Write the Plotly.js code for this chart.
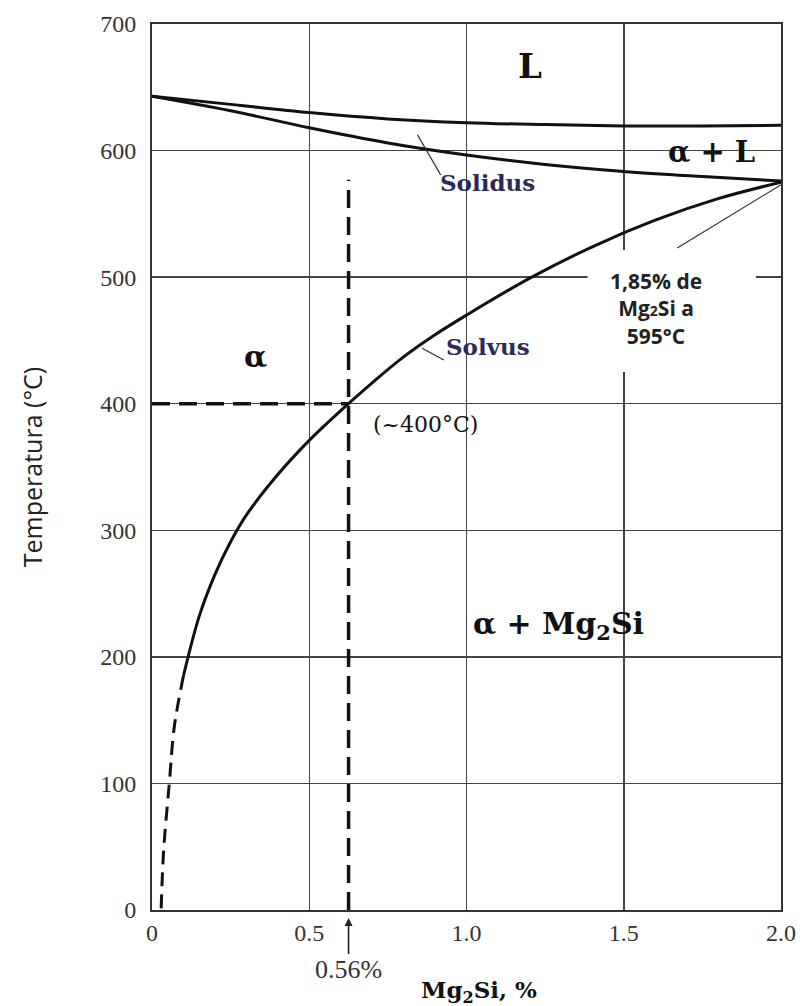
<!DOCTYPE html>
<html>
<head>
<meta charset="utf-8">
<script src="https://cdn.plot.ly/plotly-3.0.1.min.js"></script>
<style>html,body{margin:0;padding:0;background:#fff;}</style>
</head>
<body>
<div id="chart" style="width:800px;height:1006px;"></div>
<script>
// Liquidus line
const liquidusX = [0, 0.25, 0.5, 0.75, 1.0, 1.25, 1.5, 1.75, 2.0];
const liquidusT = [643, 636.5, 630, 625, 622, 620.5, 619.5, 619.5, 620];
// Solidus line
const solidusX = [0, 0.25, 0.5, 0.75, 1.0, 1.25, 1.5, 1.75, 2.0];
const solidusT = [643, 631.5, 618, 606, 596.5, 589, 583.5, 579.5, 576];
// Solvus (solid part)
const solvusX = [0.10, 0.15, 0.2, 0.25, 0.3, 0.4, 0.5, 0.6, 0.7, 0.8, 0.9, 1.0, 1.2, 1.4, 1.6, 1.8, 2.0];
const solvusT = [185, 232, 265, 291, 312, 344, 371, 394.5, 416.5, 437, 454.5, 470, 499, 524, 545, 562, 575];
// Solvus (dashed, extrapolated part)
const solvusDashX = [0.10, 0.071, 0.055, 0.037, 0.029];
const solvusDashT = [185, 145, 100, 47, 0];
// 0.56 % composition marker and 400 °C isotherm
const compX = [0.625, 0.625];
const compT = [0, 577];
const isoX = [0, 0.625];
const isoT = [400, 400];
// Axis ticks
const xTickVals = [0, 0.5, 1.0, 1.5, 2.0];
const xTickText = ['0', '0.5', '1.0', '1.5', '2.0'];
const yTickVals = [0, 100, 200, 300, 400, 500, 600, 700];
const yTickText = ['0', '100', '200', '300', '400', '500', '600', '700'];

const black = '#111';
const serif = 'DejaVu Serif, serif';
const times = 'Liberation Serif, Times New Roman, serif';

const traces = [
  {x: liquidusX, y: liquidusT, mode: 'lines', line: {color: black, width: 3, shape: 'spline'}, hoverinfo: 'skip'},
  {x: solidusX, y: solidusT, mode: 'lines', line: {color: black, width: 3, shape: 'spline'}, hoverinfo: 'skip'},
  {x: solvusX, y: solvusT, mode: 'lines', line: {color: black, width: 3, shape: 'spline'}, hoverinfo: 'skip'},
  {x: solvusDashX, y: solvusDashT, mode: 'lines', line: {color: black, width: 3, dash: '14px,8px', shape: 'spline'}, hoverinfo: 'skip'},
  {x: compX, y: compT, mode: 'lines', line: {color: black, width: 3.5, dash: '18px,9px'}, hoverinfo: 'skip'},
  {x: isoX, y: isoT, mode: 'lines', line: {color: black, width: 3.5, dash: '18px,9px'}, hoverinfo: 'skip'}
];

const layout = {
  width: 800, height: 1006,
  margin: {l: 152, r: 19, t: 24, b: 96},
  paper_bgcolor: '#fff', plot_bgcolor: '#fff',
  showlegend: false,
  xaxis: {
    range: [0, 2.0], tickvals: xTickVals, ticktext: xTickText,
    showgrid: true, gridcolor: '#444', gridwidth: 1.5, zeroline: false,
    showline: true, mirror: true, linecolor: '#333', linewidth: 2,
    ticks: '', ticklabelstandoff: 0,
    tickfont: {family: times, size: 24, color: '#333'},
    title: {text: ''}
  },
  yaxis: {
    range: [0, 700], tickvals: yTickVals, ticktext: yTickText,
    showgrid: true, gridcolor: '#444', gridwidth: 1.5, zeroline: false,
    showline: true, mirror: true, linecolor: '#333', linewidth: 2,
    ticks: '', ticklabelstandoff: 9,
    tickfont: {family: times, size: 24, color: '#333'},
    title: {text: 'Temperatura (°C)', font: {family: 'Open Sans, sans-serif', size: 25, color: '#222'}, standoff: 50}
  },
  shapes: [
    {type: 'rect', xref: 'x', yref: 'y', x0: 1.385, x1: 1.92, y0: 425, y1: 521.4,
     fillcolor: '#fff', line: {width: 0}, layer: 'between'},
    {type: 'line', xref: 'x', yref: 'y', x0: 0.844, y0: 612.4, x1: 0.918, y1: 580.8, line: {color: '#333', width: 1.2}},
    {type: 'line', xref: 'x', yref: 'y', x0: 0.859, y0: 443.8, x1: 0.928, y1: 434.5, line: {color: '#333', width: 1.2}},
    {type: 'line', xref: 'x', yref: 'y', x0: 1.67, y0: 523, x1: 2.0, y1: 573, line: {color: '#333', width: 1.2}}
  ],
  annotations: [
    {x: 1.203, y: 667, xref: 'x', yref: 'y', text: 'L', showarrow: false,
     font: {family: serif, size: 34, color: black, weight: 'bold'}},
    {x: 1.78, y: 599, xref: 'x', yref: 'y', text: 'α + L', showarrow: false,
     font: {family: serif, size: 29, color: black, weight: 'bold'}},
    {x: 0.33, y: 437, xref: 'x', yref: 'y', text: 'α', showarrow: false,
     font: {family: serif, size: 30, color: black, weight: 'bold'}},
    {x: 1.293, y: 225, xref: 'x', yref: 'y', text: 'α + Mg<sub>2</sub>Si', showarrow: false,
     font: {family: serif, size: 30, color: black, weight: 'bold'}},
    {x: 1.066, y: 574.4, xref: 'x', yref: 'y', text: 'Solidus', showarrow: false,
     font: {family: serif, size: 23, color: '#2b2b55', weight: 'bold'}},
    {x: 1.067, y: 445, xref: 'x', yref: 'y', text: 'Solvus', showarrow: false,
     font: {family: serif, size: 23, color: '#2b2b55', weight: 'bold'}},
    {x: 0.87, y: 383.4, xref: 'x', yref: 'y', text: '(~400°C)', showarrow: false,
     font: {family: serif, size: 22, color: black}},
    {x: 1.603, y: 475.6, xref: 'x', yref: 'y',
     text: '1,85% de<br>Mg<span style="font-size:14px">2</span>Si a<br>595°C', showarrow: false,
     font: {family: 'Open Sans, sans-serif', size: 21, color: '#222', weight: 'bold'}},
    {x: 0.625, y: -0.009, xref: 'x', yref: 'paper', text: '0.56%', showarrow: true,
     ax: 0, ay: 52, arrowhead: 2, arrowsize: 1, arrowwidth: 1.6, arrowcolor: '#222',
     font: {family: times, size: 26, color: '#333'}},
    {x: 1.04, y: -0.0925, xref: 'x', yref: 'paper', xanchor: 'center', yanchor: 'middle',
     text: 'Mg<sub>2</sub>Si, %', showarrow: false,
     font: {family: serif, size: 23, color: black, weight: 'bold'}}
  ]
};

Plotly.newPlot('chart', traces, layout, {displayModeBar: false, staticPlot: true});
</script>
</body>
</html>
